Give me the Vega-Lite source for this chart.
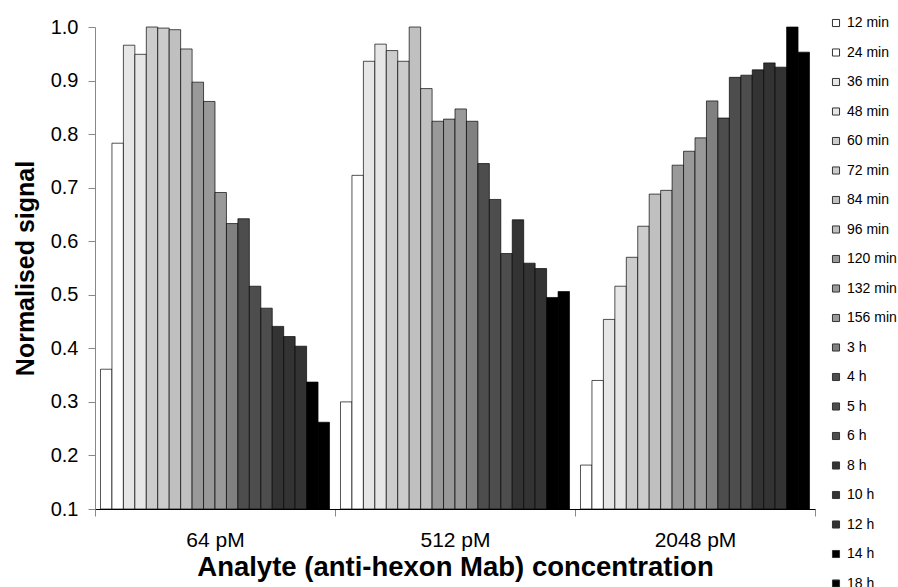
{
  "$schema": "https://vega.github.io/schema/vega-lite/v6.json",
  "width": 720,
  "height": 482,
  "autosize": {"type": "none"},
  "padding": {"left": 95, "top": 27, "right": 83, "bottom": 78},
  "background": "white",
  "config": {
    "view": {"stroke": null},
    "font": "Liberation Sans"
  },
  "data": {
    "values": [
      {"group": "64 pM", "series": "12 min", "value": 0.361},
      {"group": "64 pM", "series": "24 min", "value": 0.783},
      {"group": "64 pM", "series": "36 min", "value": 0.966},
      {"group": "64 pM", "series": "48 min", "value": 0.949},
      {"group": "64 pM", "series": "60 min", "value": 1.0},
      {"group": "64 pM", "series": "72 min", "value": 0.998},
      {"group": "64 pM", "series": "84 min", "value": 0.995},
      {"group": "64 pM", "series": "96 min", "value": 0.959},
      {"group": "64 pM", "series": "120 min", "value": 0.897},
      {"group": "64 pM", "series": "132 min", "value": 0.861},
      {"group": "64 pM", "series": "156 min", "value": 0.691},
      {"group": "64 pM", "series": "3 h", "value": 0.633},
      {"group": "64 pM", "series": "4 h", "value": 0.642},
      {"group": "64 pM", "series": "5 h", "value": 0.516},
      {"group": "64 pM", "series": "6 h", "value": 0.475},
      {"group": "64 pM", "series": "8 h", "value": 0.441},
      {"group": "64 pM", "series": "10 h", "value": 0.422},
      {"group": "64 pM", "series": "12 h", "value": 0.404},
      {"group": "64 pM", "series": "14 h", "value": 0.337},
      {"group": "64 pM", "series": "18 h", "value": 0.262},
      {"group": "512 pM", "series": "12 min", "value": 0.300},
      {"group": "512 pM", "series": "24 min", "value": 0.723},
      {"group": "512 pM", "series": "36 min", "value": 0.936},
      {"group": "512 pM", "series": "48 min", "value": 0.968},
      {"group": "512 pM", "series": "60 min", "value": 0.956},
      {"group": "512 pM", "series": "72 min", "value": 0.936},
      {"group": "512 pM", "series": "84 min", "value": 1.0},
      {"group": "512 pM", "series": "96 min", "value": 0.885},
      {"group": "512 pM", "series": "120 min", "value": 0.824},
      {"group": "512 pM", "series": "132 min", "value": 0.828},
      {"group": "512 pM", "series": "156 min", "value": 0.847},
      {"group": "512 pM", "series": "3 h", "value": 0.824},
      {"group": "512 pM", "series": "4 h", "value": 0.745},
      {"group": "512 pM", "series": "5 h", "value": 0.678},
      {"group": "512 pM", "series": "6 h", "value": 0.577},
      {"group": "512 pM", "series": "8 h", "value": 0.640},
      {"group": "512 pM", "series": "10 h", "value": 0.559},
      {"group": "512 pM", "series": "12 h", "value": 0.549},
      {"group": "512 pM", "series": "14 h", "value": 0.495},
      {"group": "512 pM", "series": "18 h", "value": 0.506},
      {"group": "2048 pM", "series": "12 min", "value": 0.182},
      {"group": "2048 pM", "series": "24 min", "value": 0.340},
      {"group": "2048 pM", "series": "36 min", "value": 0.454},
      {"group": "2048 pM", "series": "48 min", "value": 0.516},
      {"group": "2048 pM", "series": "60 min", "value": 0.570},
      {"group": "2048 pM", "series": "72 min", "value": 0.628},
      {"group": "2048 pM", "series": "84 min", "value": 0.688},
      {"group": "2048 pM", "series": "96 min", "value": 0.695},
      {"group": "2048 pM", "series": "120 min", "value": 0.742},
      {"group": "2048 pM", "series": "132 min", "value": 0.768},
      {"group": "2048 pM", "series": "156 min", "value": 0.793},
      {"group": "2048 pM", "series": "3 h", "value": 0.862},
      {"group": "2048 pM", "series": "4 h", "value": 0.830},
      {"group": "2048 pM", "series": "5 h", "value": 0.906},
      {"group": "2048 pM", "series": "6 h", "value": 0.910},
      {"group": "2048 pM", "series": "8 h", "value": 0.920},
      {"group": "2048 pM", "series": "10 h", "value": 0.933},
      {"group": "2048 pM", "series": "12 h", "value": 0.925},
      {"group": "2048 pM", "series": "14 h", "value": 1.0},
      {"group": "2048 pM", "series": "18 h", "value": 0.953}
    ]
  },
  "mark": {"type": "bar", "stroke": "#000000", "strokeWidth": 0.8, "strokeOpacity": 0.85},
  "encoding": {
    "x": {
      "field": "group",
      "type": "nominal",
      "sort": ["64 pM", "512 pM", "2048 pM"],
      "scale": {"paddingInner": 0, "paddingOuter": 0},
      "axis": {
        "title": "Analyte (anti-hexon Mab) concentration",
        "titleFontSize": 27.5,
        "titleFontWeight": "bold",
        "titleColor": "#000",
        "titlePadding": 3,
        "labelFontSize": 21,
        "labelColor": "#000",
        "labelAngle": 0,
        "labelPadding": 13,
        "tickBand": "extent",
        "tickSize": 7,
        "tickColor": "#888",
        "domainColor": "#000",
        "domainWidth": 1
      }
    },
    "xOffset": {
      "field": "series",
      "type": "nominal",
      "sort": ["12 min","24 min","36 min","48 min","60 min","72 min","84 min","96 min","120 min","132 min","156 min","3 h","4 h","5 h","6 h","8 h","10 h","12 h","14 h","18 h"],
      "scale": {"paddingInner": 0, "paddingOuter": 0.48}
    },
    "y": {
      "field": "value",
      "type": "quantitative",
      "scale": {"domain": [0.1, 1.0], "nice": false, "zero": false},
      "axis": {
        "title": "Normalised signal",
        "titleFontSize": 25,
        "titleFontWeight": "bold",
        "titleColor": "#000",
        "titlePadding": 12,
        "values": [0.1, 0.2, 0.3, 0.4, 0.5, 0.6, 0.7, 0.8, 0.9, 1.0],
        "format": ".1f",
        "labelFontSize": 20,
        "labelColor": "#000",
        "labelPadding": 10,
        "tickSize": 7,
        "tickColor": "#888",
        "domainColor": "#888",
        "grid": false
      }
    },
    "y2": {"datum": 0.1},
    "color": {
      "field": "series",
      "type": "nominal",
      "scale": {
        "domain": ["12 min","24 min","36 min","48 min","60 min","72 min","84 min","96 min","120 min","132 min","156 min","3 h","4 h","5 h","6 h","8 h","10 h","12 h","14 h","18 h"],
        "range": ["#ffffff","#ffffff","#e6e6e6","#e6e6e6","#cccccc","#cccccc","#c0c0c0","#c0c0c0","#999999","#999999","#999999","#808080","#4d4d4d","#4d4d4d","#4d4d4d","#333333","#333333","#333333","#000000","#000000"]
      },
      "legend": {
        "title": null,
        "orient": "none",
        "legendX": 734,
        "legendY": -11,
        "symbolType": "square",
        "symbolSize": 50,
        "symbolStrokeColor": "#333",
        "symbolStrokeWidth": 1,
        "labelFontSize": 14,
        "labelColor": "#000",
        "labelOffset": 4,
        "rowPadding": 15.5,
        "labelLimit": 80
      }
    }
  }
}
